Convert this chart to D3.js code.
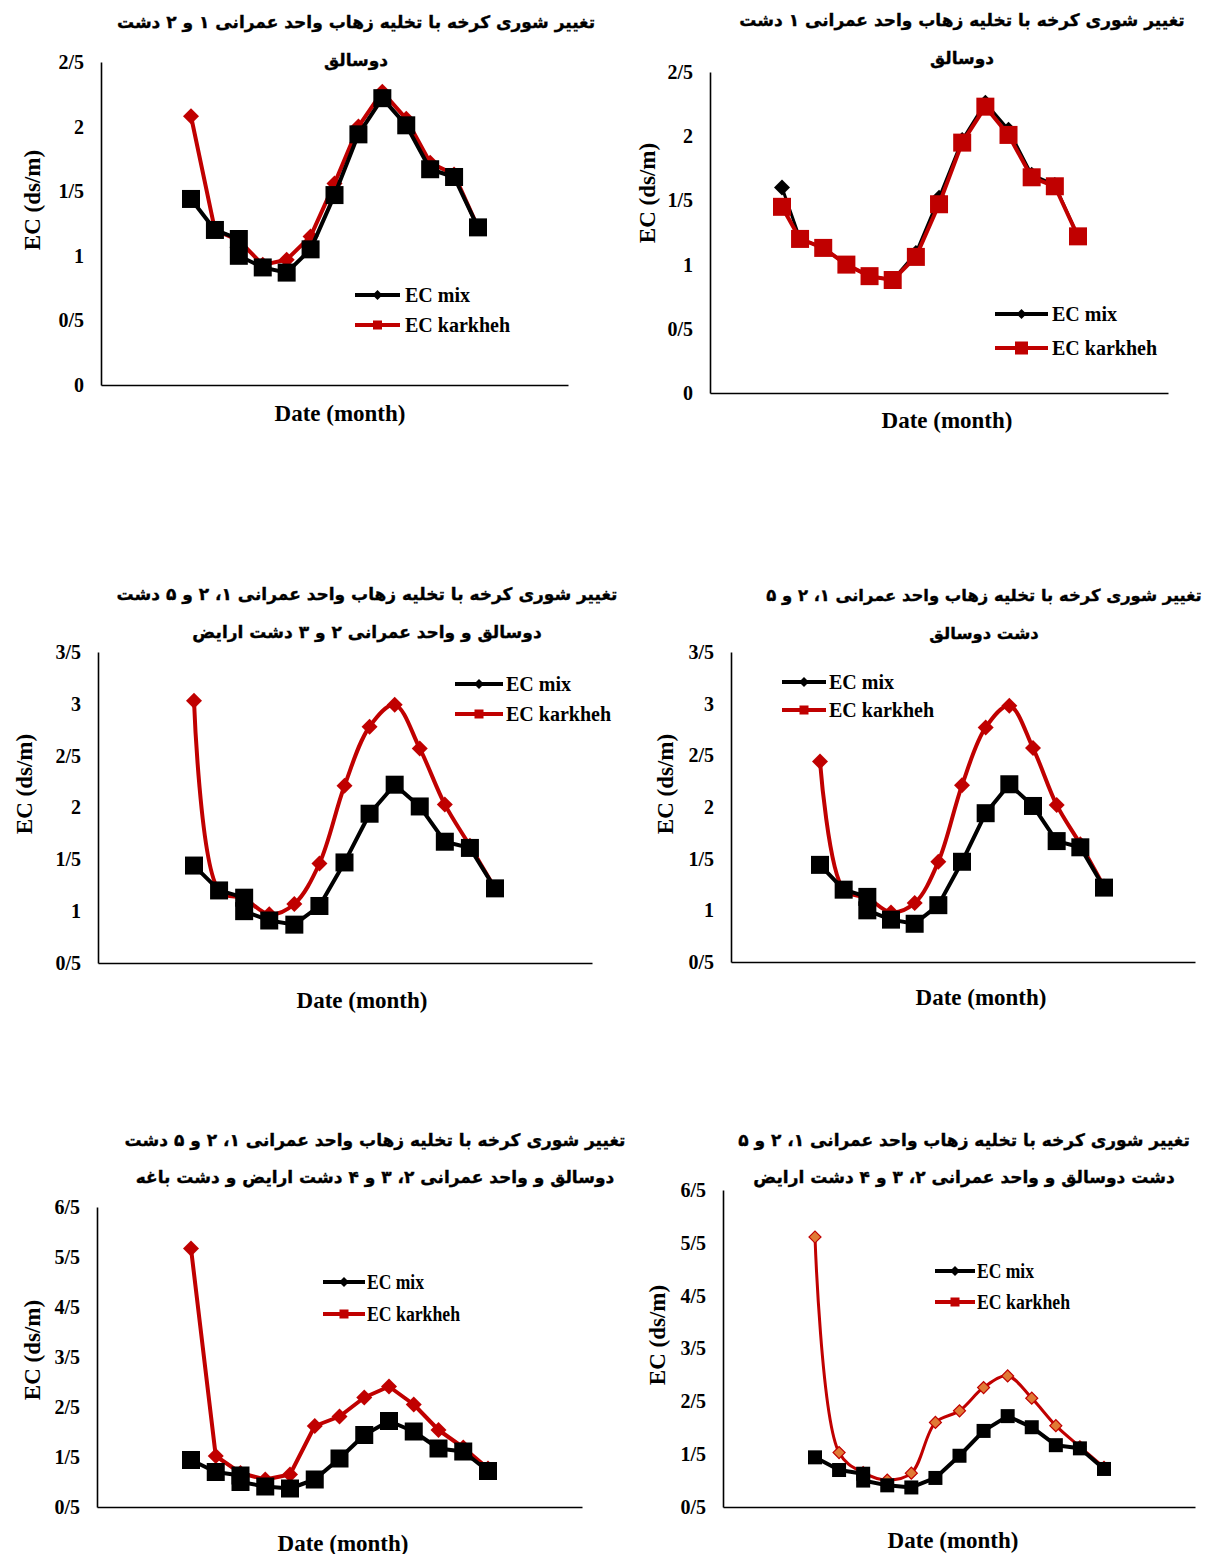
<!DOCTYPE html>
<html>
<head>
  <meta charset="utf-8">
  <script src="https://d3js.org/d3.v7.min.js"></script>
</head>
<style>
  body { margin: 0; background: #fff; }
  .lat { font-family: "Liberation Serif", "Times New Roman", serif; font-weight: bold; }
  .fa { font-family: "DejaVu Sans", sans-serif; font-weight: bold; }
</style>
<body>
  <svg width="1209" height="1554"></svg>

  <script>
    // x positions of the samples (month index)
    const monthIdx = [0, 1, 2, 3, 4, 5, 6, 7, 8, 9, 10, 11, 12];
    const mixIdx = [0, 1, 2, 2, 3, 4, 5, 6, 7, 8, 9, 10, 11, 12];
    const idxTR = [0, 0.78, 1.78, 2.78, 3.78, 4.78, 5.78, 6.78, 7.78, 8.78, 9.78, 10.78, 11.78, 12.78];

    // EC mix (same in most panels)
    const ecMix = [1.44, 1.2, 1.13, 1.0, 0.91, 0.87, 1.05, 1.47, 1.94, 2.22, 2.01, 1.67, 1.61, 1.22];
    const ecMixTR = [1.6, 1.2, 1.13, 1.0, 0.91, 0.88, 1.09, 1.52, 1.97, 2.26, 2.05, 1.7, 1.62, 1.22];

    // EC karkheh per panel
    const ecKarkhehTL = [2.08, 1.2, 1.12, 0.93, 0.97, 1.15, 1.56, 2.0, 2.27, 2.06, 1.72, 1.63, 1.22];
    const ecKarkhehTR = [1.45, 1.2, 1.13, 1.0, 0.91, 0.88, 1.06, 1.47, 1.95, 2.23, 2.01, 1.68, 1.61, 1.22];
    const ecKarkhehML = [3.03, 1.2, 1.12, 0.97, 1.07, 1.46, 2.21, 2.78, 2.99, 2.57, 2.03, 1.63, 1.22];
    const ecKarkhehMR = [2.44, 1.2, 1.12, 0.98, 1.07, 1.47, 2.21, 2.77, 2.98, 2.57, 2.02, 1.64, 1.23];
    const ecKarkhehBL = [5.67, 1.52, 1.18, 1.05, 1.15, 2.12, 2.31, 2.69, 2.91, 2.55, 2.04, 1.69, 1.27];
    const ecKarkhehBR = [5.61, 1.53, 1.15, 1.01, 1.14, 2.1, 2.32, 2.76, 2.98, 2.56, 2.04, 1.64, 1.25];

    // y tick values
    const ticksTop = [0, 0.5, 1, 1.5, 2, 2.5];
    const ticksMid = [0.5, 1, 1.5, 2, 2.5, 3, 3.5];
    const ticksBot = [0.5, 1.5, 2.5, 3.5, 4.5, 5.5, 6.5];

    const titles = [
      ['تغییر شوری کرخه با تخلیه زهاب واحد عمرانی ۱ و ۲ دشت', 'دوسالق'],
      ['تغییر شوری کرخه با تخلیه زهاب واحد عمرانی ۱ دشت', 'دوسالق'],
      ['تغییر شوری کرخه با تخلیه زهاب واحد عمرانی ۱، ۲ و ۵ دشت', 'دوسالق و واحد عمرانی ۲ و ۳ دشت ارایض'],
      ['تغییر شوری کرخه با تخلیه زهاب واحد عمرانی ۱، ۲ و ۵', 'دشت دوسالق'],
      ['تغییر شوری کرخه با تخلیه زهاب واحد عمرانی ۱، ۲ و ۵ دشت', 'دوسالق و واحد عمرانی ۲، ۳ و ۴ دشت ارایض و دشت باغه'],
      ['تغییر شوری کرخه با تخلیه زهاب واحد عمرانی ۱، ۲ و ۵', 'دشت دوسالق و واحد عمرانی ۲، ۳ و ۴ دشت ارایض']
    ];
    const seriesNames = ['EC mix', 'EC karkheh'];

    const RED = '#c00000';

    // layout of each panel
    const panels = [
      {box: [101, 568, 62, 385], pts: [191, 478], y: [0, 2.5], ticks: ticksTop,
       mixX: mixIdx, mix: ecMix, karX: monthIdx, kar: ecKarkhehTL, last: 12,
       title: [356, 22, 60], xlab: [340, 413], ylab: [32, 200], leg: [355, 400, 405, 295, 325],
       mixOnTop: true, smooth: false, mixMark: 'square', karMark: 'diamond'},
      {box: [710, 1168, 72, 393], pts: [782, 1078], y: [0, 2.5], ticks: ticksTop,
       mixX: idxTR, mix: ecMixTR, karX: idxTR, kar: ecKarkhehTR, last: 12.78,
       title: [962, 20, 58], xlab: [947, 420], ylab: [647, 193], leg: [995, 1048, 1052, 314, 348],
       mixOnTop: false, smooth: false, mixMark: 'diamond', karMark: 'square', legBig: true},
      {box: [98, 592, 652, 963], pts: [194, 495], y: [0.5, 3.5], ticks: ticksMid,
       mixX: mixIdx, mix: ecMix, karX: monthIdx, kar: ecKarkhehML, last: 12,
       title: [367, 594, 632], xlab: [362, 1000], ylab: [24, 784], leg: [455, 503, 506, 684, 714],
       mixOnTop: true, smooth: true, mixMark: 'square', karMark: 'diamond'},
      {box: [731, 1195, 652, 962], pts: [820, 1104], y: [0.5, 3.5], ticks: ticksMid,
       mixX: mixIdx, mix: ecMix, karX: monthIdx, kar: ecKarkhehMR, last: 12,
       title: [984, 595, 633], titleSize: 16.4, xlab: [981, 997], ylab: [665, 784], leg: [782, 826, 829, 682, 710],
       mixOnTop: true, smooth: true, mixMark: 'square', karMark: 'diamond'},
      {box: [97, 582, 1207, 1507], pts: [191, 488], y: [0.5, 6.5], ticks: ticksBot,
       mixX: mixIdx, mix: ecMix, karX: monthIdx, kar: ecKarkhehBL, last: 12,
       title: [375, 1140, 1177], xlab: [343, 1543], ylab: [32, 1350], leg: [323, 365, 367, 1282, 1314],
       mixOnTop: true, smooth: false, mixMark: 'square', karMark: 'diamond', narrow: true},
      {box: [723, 1195, 1190, 1507], pts: [815, 1104], y: [0.5, 6.5], ticks: ticksBot,
       mixX: mixIdx, mix: ecMix, karX: monthIdx, kar: ecKarkhehBR, last: 12,
       title: [964, 1140, 1177], xlab: [953, 1540], ylab: [657, 1335], leg: [935, 975, 977, 1271, 1302],
       mixOnTop: true, smooth: true, mixMark: 'square', karMark: 'diamond', narrow: true, thin: true}
    ];

    const svg = d3.select('svg');

    function marker(g, type, cx, cy, size, fill, stroke, sw) {
      if (type === 'square') {
        g.append('rect')
          .attr('x', cx - size / 2).attr('y', cy - size / 2)
          .attr('width', size).attr('height', size)
          .attr('fill', fill).attr('stroke', stroke || 'none').attr('stroke-width', sw || 0);
      } else {
        const s = size / Math.SQRT2;
        g.append('rect')
          .attr('x', -s / 2).attr('y', -s / 2)
          .attr('width', s).attr('height', s)
          .attr('transform', `translate(${cx},${cy}) rotate(45)`)
          .attr('fill', fill).attr('stroke', stroke || 'none').attr('stroke-width', sw || 0);
      }
    }

    panels.forEach((p, i) => {
      const [left, right, top, bottom] = p.box;
      const step = (p.pts[1] - p.pts[0]) / p.last;
      const x = d3.scaleLinear()
        .domain([-(p.pts[0] - left) / step, p.last + (right - p.pts[1]) / step])
        .range([left, right]);
      const y = d3.scaleLinear().domain(p.y).range([bottom, top]);

      const g = svg.append('g');

      // title
      titles[i].forEach((t, k) => {
        g.append('text').attr('class', 'fa')
          .attr('x', p.title[0]).attr('y', p.title[1 + k])
          .attr('direction', 'rtl')
          .attr('text-anchor', 'middle')
          .attr('dominant-baseline', 'central')
          .style('font-size', (p.titleSize || 17) + 'px')
          .attr('stroke', '#000').attr('stroke-width', 0.35)
          .text(t);
      });

      // axes
      const yAxis = g.append('g')
        .attr('transform', `translate(${left},0)`)
        .call(d3.axisLeft(y).tickValues(p.ticks).tickSize(0).tickPadding(17)
          .tickFormat(d => String(d).replace('.', '/')));
      const xAxis = g.append('g')
        .attr('transform', `translate(0,${bottom})`)
        .call(d3.axisBottom(x).tickValues([]).tickSizeOuter(0));
      [yAxis, xAxis].forEach(a => {
        a.select('.domain').attr('stroke', '#000').attr('stroke-width', 1.6);
        a.selectAll('text').attr('class', 'lat').style('font-size', '20px').attr('fill', '#000');
      });

      g.append('text').attr('class', 'lat')
        .attr('x', p.xlab[0]).attr('y', p.xlab[1])
        .attr('text-anchor', 'middle').attr('dominant-baseline', 'central')
        .style('font-size', '23px')
        .text('Date (month)');
      g.append('text').attr('class', 'lat')
        .attr('transform', `translate(${p.ylab[0]},${p.ylab[1]}) rotate(-90)`)
        .attr('text-anchor', 'middle').attr('dominant-baseline', 'central')
        .style('font-size', '23px')
        .text('EC (ds/m)');

      // series
      const mixPts = p.mix.map((v, j) => [x(p.mixX[j]), y(v)]);
      const karPts = p.kar.map((v, j) => [x(p.karX[j]), y(v)]);
      const lineLin = d3.line();
      const lineSm = d3.line().curve(d3.curveCatmullRom.alpha(0.5));

      const sqSize = p.thin ? 14 : 18;
      const dmSize = p.thin ? 12 : 16;

      function drawMix() {
        const gm = g.append('g');
        gm.append('path').attr('d', lineLin(mixPts))
          .attr('fill', 'none').attr('stroke', '#000')
          .attr('stroke-width', p.mixOnTop ? 4 : 3)
          .attr('stroke-linejoin', 'round');
        mixPts.forEach(([cx, cy]) => marker(gm, p.mixMark, cx, cy, p.mixMark === 'square' ? sqSize : dmSize, '#000'));
      }
      function drawKar() {
        const gk = g.append('g');
        gk.append('path').attr('d', (p.smooth ? lineSm : lineLin)(karPts))
          .attr('fill', 'none').attr('stroke', RED)
          .attr('stroke-width', p.thin ? 3 : 4)
          .attr('stroke-linejoin', 'round');
        karPts.forEach(([cx, cy]) => {
          if (p.thin) marker(gk, 'diamond', cx, cy, dmSize, '#e07a35', RED, 1.2);
          else marker(gk, p.karMark, cx, cy, p.karMark === 'square' ? sqSize : dmSize, RED);
        });
      }
      if (p.mixOnTop) { drawKar(); drawMix(); } else { drawMix(); drawKar(); }

      // legend
      const [lx0, lx1, tx, ly0, ly1] = p.leg;
      const lg = g.append('g');
      [[ly0, '#000', 'diamond'], [ly1, RED, 'square']].forEach(([ly, col, mk], k) => {
        lg.append('line').attr('x1', lx0).attr('x2', lx1).attr('y1', ly).attr('y2', ly)
          .attr('stroke', col).attr('stroke-width', 4);
        const ms = mk === 'diamond' ? 10 : (p.legBig ? 13 : 9);
        marker(lg, mk, (lx0 + lx1) / 2, ly, ms, col);
        const t = lg.append('text').attr('class', 'lat')
          .attr('x', tx).attr('y', ly)
          .attr('dominant-baseline', 'central')
          .style('font-size', '20px')
          .text(seriesNames[k]);
        if (p.narrow) t.attr('textLength', k === 0 ? 57 : 93).attr('lengthAdjust', 'spacingAndGlyphs');
      });
    });
  </script>
</body>
</html>
